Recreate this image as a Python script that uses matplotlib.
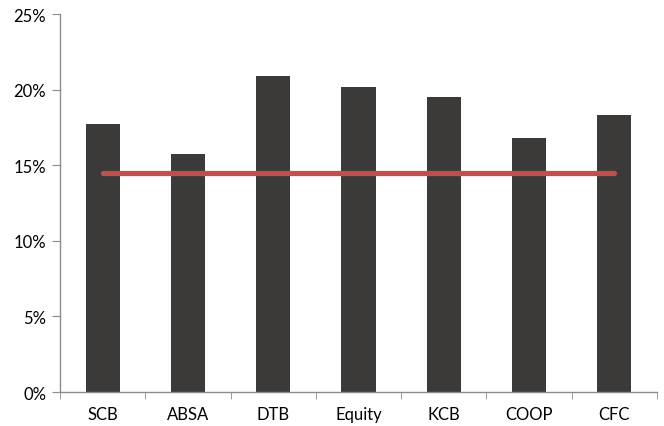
import numpy as np
import matplotlib
matplotlib.use('Agg')
from matplotlib import pyplot as plt
from matplotlib.ticker import FuncFormatter, FixedLocator

banks = ['SCB', 'ABSA', 'DTB', 'Equity', 'KCB', 'COOP', 'CFC']
values = [17.7, 15.75, 20.9, 20.2, 19.5, 16.8, 18.3]
average = [14.5] * len(banks)

plt.rcParams['font.family'] = ['Lato', 'DejaVu Sans']

fig = plt.figure(figsize=(6.64, 4.27), dpi=100)
ax = fig.add_axes([0.0904, 0.0796, 0.899, 0.885])

x = np.arange(len(banks))
ax.bar(x, values, width=0.4, color='#3b3a38', zorder=2)
ax.plot(x, average, color='#c0504d', linewidth=3.8, solid_capstyle='round', zorder=3)

ax.set_xlim(-0.5, len(banks) - 0.5)
ax.set_ylim(0, 25)
ax.set_yticks([0, 5, 10, 15, 20, 25])
ax.yaxis.set_major_formatter(FuncFormatter(lambda v, p: '%d%%' % v))
ax.set_xticks(x)
ax.set_xticklabels(banks)
ax.xaxis.set_minor_locator(FixedLocator(np.arange(-0.5, len(banks), 1.0)))

for s in ['top', 'right']:
    ax.spines[s].set_visible(False)
for s in ['left', 'bottom']:
    ax.spines[s].set_color('#8c8c8c')
    ax.spines[s].set_linewidth(1.0)

ax.tick_params(axis='y', direction='out', length=6, color='#8c8c8c', labelsize=12, pad=4)
ax.tick_params(axis='x', which='major', length=0, labelsize=12, pad=10)
ax.tick_params(axis='x', which='minor', direction='out', length=5, color='#8c8c8c')

fig.savefig('out.png', dpi=100)
